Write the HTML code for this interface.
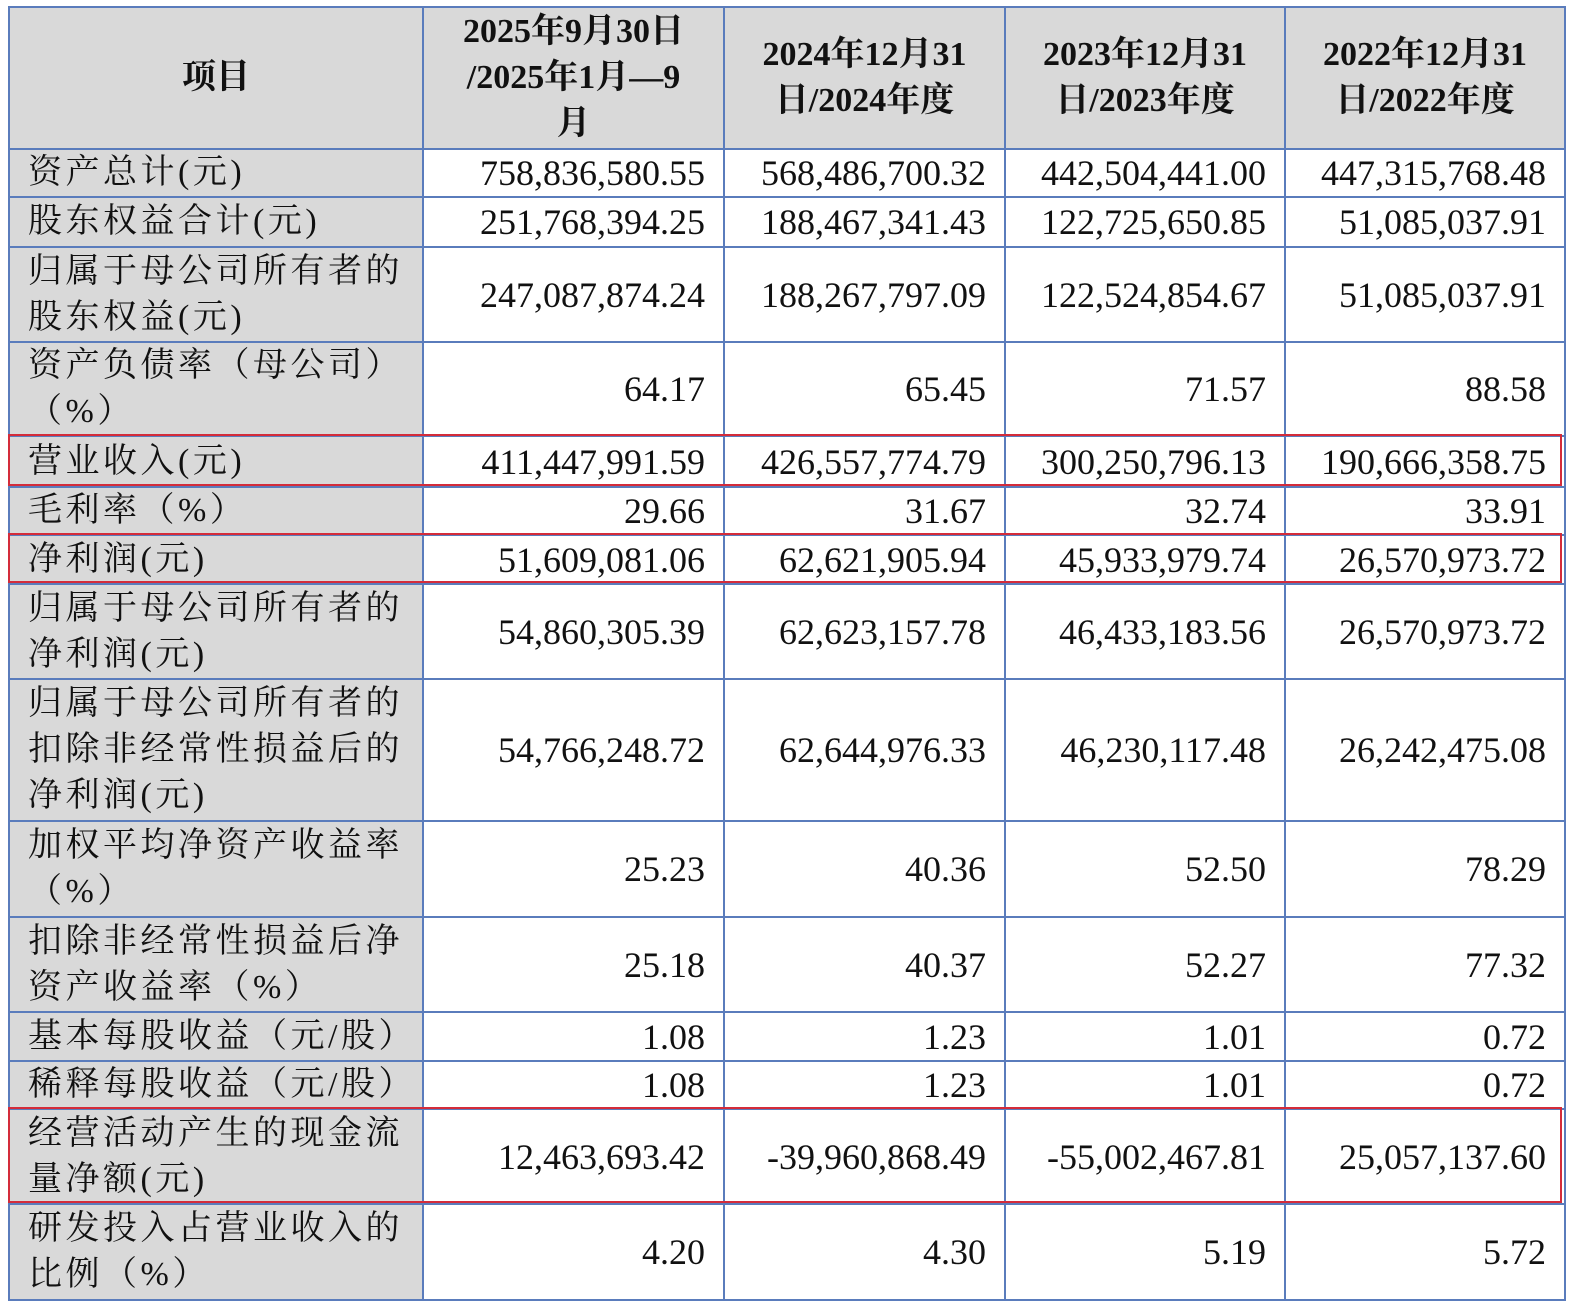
<!DOCTYPE html>
<html><head><meta charset="utf-8">
<style>
body{margin:0;background:#fff;width:1572px;height:1306px;position:relative;overflow:hidden;}
table{position:absolute;left:8px;top:6px;border-collapse:collapse;table-layout:fixed;
font-family:"Liberation Serif","Noto Serif CJK SC",serif;font-size:34px;color:#111;}
td{border:2px solid #5a7cbc;padding:0;vertical-align:middle;line-height:46px;}
td.l{background:#d9d9d9;padding-left:18px;letter-spacing:3.5px;text-align:left;}
td.n{text-align:right;padding-right:18px;font-size:36px;}
tr.h td{background:#d9d9d9;text-align:center;font-weight:bold;}
.box{position:absolute;border:2px solid #d42c3a;box-sizing:border-box;left:8px;width:1554px;}
</style></head><body>
<table>
<colgroup><col style="width:414px"><col style="width:301px"><col style="width:281px"><col style="width:280px"><col style="width:280px"></colgroup>
<tr class="h" style="height:142px"><td>项目</td><td>2025年9月30日<br>/2025年1月—9<br>月</td><td>2024年12月31<br>日/2024年度</td><td>2023年12月31<br>日/2023年度</td><td>2022年12月31<br>日/2022年度</td></tr>
<tr style="height:48px"><td class="l">资产总计(元)</td><td class="n">758,836,580.55</td><td class="n">568,486,700.32</td><td class="n">442,504,441.00</td><td class="n">447,315,768.48</td></tr>
<tr style="height:50px"><td class="l">股东权益合计(元)</td><td class="n">251,768,394.25</td><td class="n">188,467,341.43</td><td class="n">122,725,650.85</td><td class="n">51,085,037.91</td></tr>
<tr style="height:95px"><td class="l">归属于母公司所有者的<br>股东权益(元)</td><td class="n">247,087,874.24</td><td class="n">188,267,797.09</td><td class="n">122,524,854.67</td><td class="n">51,085,037.91</td></tr>
<tr style="height:94px"><td class="l">资产负债率（母公司）<br>（%）</td><td class="n">64.17</td><td class="n">65.45</td><td class="n">71.57</td><td class="n">88.58</td></tr>
<tr style="height:51px"><td class="l">营业收入(元)</td><td class="n">411,447,991.59</td><td class="n">426,557,774.79</td><td class="n">300,250,796.13</td><td class="n">190,666,358.75</td></tr>
<tr style="height:48px"><td class="l">毛利率（%）</td><td class="n">29.66</td><td class="n">31.67</td><td class="n">32.74</td><td class="n">33.91</td></tr>
<tr style="height:49px"><td class="l">净利润(元)</td><td class="n">51,609,081.06</td><td class="n">62,621,905.94</td><td class="n">45,933,979.74</td><td class="n">26,570,973.72</td></tr>
<tr style="height:95px"><td class="l">归属于母公司所有者的<br>净利润(元)</td><td class="n">54,860,305.39</td><td class="n">62,623,157.78</td><td class="n">46,433,183.56</td><td class="n">26,570,973.72</td></tr>
<tr style="height:142px"><td class="l">归属于母公司所有者的<br>扣除非经常性损益后的<br>净利润(元)</td><td class="n">54,766,248.72</td><td class="n">62,644,976.33</td><td class="n">46,230,117.48</td><td class="n">26,242,475.08</td></tr>
<tr style="height:96px"><td class="l">加权平均净资产收益率<br>（%）</td><td class="n">25.23</td><td class="n">40.36</td><td class="n">52.50</td><td class="n">78.29</td></tr>
<tr style="height:95px"><td class="l">扣除非经常性损益后净<br>资产收益率（%）</td><td class="n">25.18</td><td class="n">40.37</td><td class="n">52.27</td><td class="n">77.32</td></tr>
<tr style="height:49px"><td class="l">基本每股收益（元/股）</td><td class="n">1.08</td><td class="n">1.23</td><td class="n">1.01</td><td class="n">0.72</td></tr>
<tr style="height:48px"><td class="l">稀释每股收益（元/股）</td><td class="n">1.08</td><td class="n">1.23</td><td class="n">1.01</td><td class="n">0.72</td></tr>
<tr style="height:95px"><td class="l">经营活动产生的现金流<br>量净额(元)</td><td class="n">12,463,693.42</td><td class="n">-39,960,868.49</td><td class="n">-55,002,467.81</td><td class="n">25,057,137.60</td></tr>
<tr style="height:96px"><td class="l">研发投入占营业收入的<br>比例（%）</td><td class="n">4.20</td><td class="n">4.30</td><td class="n">5.19</td><td class="n">5.72</td></tr>
</table>
<div class="box" style="top:434px;height:52px"></div>
<div class="box" style="top:533px;height:50px"></div>
<div class="box" style="top:1107px;height:96px"></div>
</body></html>
